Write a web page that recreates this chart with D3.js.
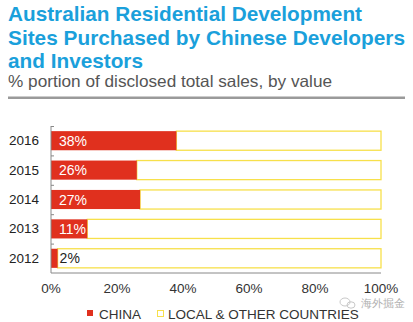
<!DOCTYPE html>
<html><head><meta charset="utf-8">
<script src="https://cdn.jsdelivr.net/npm/d3@7"></script>
<style>body{margin:0;background:#fff}svg{display:block}text{font-family:"Liberation Sans",Arial,sans-serif}</style>
</head><body><svg id="c" width="413" height="322"></svg>
<script>
const titleLines = ["Australian Residential Development", "Sites Purchased by Chinese Developers", "and Investors"];
const subtitle = "% portion of disclosed total sales, by value";
const years = ["2016", "2015", "2014", "2013", "2012"];
const china = [38, 26, 27, 11, 2];
const xTicks = [0, 20, 40, 60, 80, 100];
const legendLabels = ["CHINA", "LOCAL & OTHER COUNTRIES"];

const svg = d3.select("#c");
const red = "#e0301e", yellow = "#f7e04b", blue = "#1aa0db";

const titleWidths = [354, 397, 135];
titleLines.forEach((t, i) => {
  svg.append("text").attr("x", 8).attr("y", 21 + i * 23.5)
    .attr("font-size", 21).attr("font-weight", "bold").attr("fill", blue)
    .attr("textLength", titleWidths[i]).attr("lengthAdjust", "spacingAndGlyphs").text(t);
});
svg.append("text").attr("x", 8).attr("y", 87).attr("font-size", 16.5).attr("fill", "#555")
  .attr("textLength", 324).attr("lengthAdjust", "spacingAndGlyphs").text(subtitle);
svg.append("rect").attr("x", 8).attr("y", 96.5).attr("width", 397).attr("height", 2.5).attr("fill", "#9a9a9a");

const x = d3.scaleLinear().domain([0, 100]).range([51, 381]);
const y = d3.scaleBand().domain(years).range([126, 273]).paddingInner(0.35).paddingOuter(0.175);

svg.selectAll(".rest").data(years).enter().append("rect")
  .attr("x", (d, i) => x(china[i])).attr("y", d => y(d))
  .attr("width", (d, i) => x(100) - x(china[i])).attr("height", y.bandwidth())
  .attr("fill", "#fff").attr("stroke", yellow).attr("stroke-width", 1.3);
svg.selectAll(".cn").data(years).enter().append("rect")
  .attr("x", x(0)).attr("y", d => y(d))
  .attr("width", (d, i) => x(china[i]) - x(0)).attr("height", y.bandwidth())
  .attr("fill", red);

svg.selectAll(".val").data(years).enter().append("text")
  .attr("x", (d, i) => china[i] < 5 ? x(china[i]) + 2 : x(0) + 8)
  .attr("y", d => y(d) + y.bandwidth() / 2 + 5)
  .attr("font-size", 14).attr("fill", (d, i) => china[i] < 5 ? "#222" : "#fff")
  .text((d, i) => china[i] + "%");

const step = y.step();
svg.append("line").attr("x1", 51).attr("x2", 51).attr("y1", 126).attr("y2", 273).attr("stroke", "#888").attr("stroke-width", 1);
svg.append("line").attr("x1", 51).attr("x2", 381).attr("y1", 273).attr("y2", 273).attr("stroke", "#888").attr("stroke-width", 1);
years.forEach((d, i) => {
  svg.append("line").attr("x1", 51).attr("x2", 54).attr("y1", 126.5 + i * step).attr("y2", 126.5 + i * step).attr("stroke", "#888");
});
svg.selectAll(".yl").data(years).enter().append("text")
  .attr("x", 39).attr("y", d => y(d) + y.bandwidth() / 2 + 4.5)
  .attr("text-anchor", "end").attr("font-size", 13.5).attr("fill", "#222").text(d => d);
svg.selectAll(".xl").data(xTicks).enter().append("text")
  .attr("x", d => x(d)).attr("y", 293).attr("text-anchor", "middle")
  .attr("font-size", 13.5).attr("fill", "#333").text(d => d + "%");

svg.append("rect").attr("x", 87).attr("y", 310).attr("width", 6).attr("height", 6).attr("fill", red);
svg.append("text").attr("x", 99).attr("y", 318.5).attr("font-size", 13.5).attr("fill", "#333").text(legendLabels[0]);
svg.append("rect").attr("x", 157.5).attr("y", 310.5).attr("width", 6).attr("height", 6).attr("fill", "#fff").attr("stroke", yellow);
svg.append("text").attr("x", 168).attr("y", 318.5).attr("font-size", 13.5).attr("fill", "#333").text(legendLabels[1]);

// watermark
const wm = svg.append("g").attr("fill", "none").attr("stroke", "#c8c8c8").attr("stroke-width", 1);
wm.append("ellipse").attr("cx", 345).attr("cy", 302).attr("rx", 5).attr("ry", 4);
wm.append("ellipse").attr("cx", 351).attr("cy", 305).attr("rx", 4).attr("ry", 3.2);
svg.append("text").attr("x", 361).attr("y", 307).attr("font-size", 10.5)
  .attr("font-family", "Noto Sans CJK SC").attr("fill", "#b0b0b0").text("海外掘金");
</script></body></html>
